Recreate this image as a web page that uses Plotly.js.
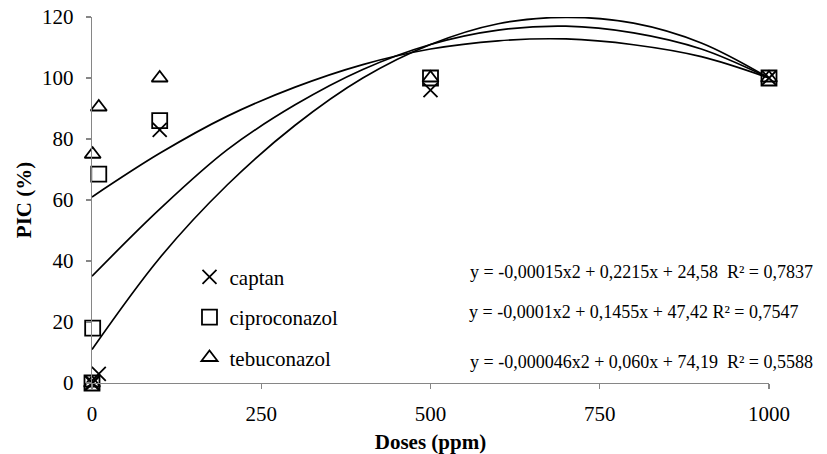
<!DOCTYPE html>
<html>
<head>
<meta charset="utf-8">
<script src="https://cdn.plot.ly/plotly-3.0.1.min.js"></script>
<style>html,body{margin:0;padding:0;background:#fff;}#chart{width:827px;height:454px;}</style>
</head>
<body>
<div id="chart"></div>
<script>
// Observed doses (ppm) and PIC (%) values
var doses = [0, 1, 10, 100, 500, 1000];
var captan = [0, 0, 3, 83, 96, 100];
var ciproconazol = [0, 18, 68.5, 86, 100, 100];
var tebuconazol = [0, 75, 90.5, 100, 100, 100];

// Trend curves
var fitX = [0, 100, 200, 300, 400, 500, 600, 700, 800, 900, 1000];
var fitCaptan = [11, 41, 65, 84.5, 100, 111, 117.8, 119.9, 118, 111.5, 100];
var fitCipro = [35, 57, 76.5, 91.2, 102.8, 111, 115.7, 117, 114.8, 109.5, 100];
var fitTebu = [61, 75.3, 87.5, 97, 104.4, 109.5, 112.2, 112.8, 110.9, 107, 100];

var seriesNames = ['captan', 'ciproconazol', 'tebuconazol'];
var equations = [
  'y = -0,00015x2 + 0,2215x + 24,58  R² = 0,7837',
  'y = -0,0001x2 + 0,1455x + 47,42 R² = 0,7547',
  'y = -0,000046x2 + 0,060x + 74,19  R² = 0,5588'
];
var xTicks = [0, 250, 500, 750, 1000];

var FONT = 'Liberation Serif';

function curve(y, name) {
  return {
    x: fitX, y: y, type: 'scatter', mode: 'lines', name: name,
    line: {color: 'black', width: 1.7, shape: 'spline', smoothing: 1},
    showlegend: false, hoverinfo: 'skip', cliponaxis: false
  };
}
function pts(y, name, symbol, size) {
  return {
    x: doses, y: y, type: 'scatter', mode: 'markers', name: name,
    legendgroup: name,
    marker: {symbol: symbol, size: size, color: 'black', line: {color: 'black', width: 1.8}},
    cliponaxis: false
  };
}

var data = [
  curve(fitCaptan, 'Polin. (captan)'),
  curve(fitCipro, 'Polin. (ciproconazol)'),
  curve(fitTebu, 'Polin. (tebuconazol)'),
  pts(captan, seriesNames[0], 'x-thin-open', 14),
  pts(ciproconazol, seriesNames[1], 'square-open', 15),
  pts(tebuconazol, seriesNames[2], 'triangle-up-open', 14)
];

function axisCommon() {
  return {
    showline: true, linecolor: '#868686', linewidth: 1.3,
    ticks: 'outside', ticklen: 5, tickcolor: '#868686', tickwidth: 1.3,
    showgrid: false, zeroline: false,
    tickfont: {family: FONT, size: 21, color: 'black'}
  };
}

var xa = axisCommon();
xa.range = [0, 1000];
xa.tickmode = 'array';
xa.tickvals = xTicks;
xa.ticktext = xTicks.map(String);
xa.ticklabelstandoff = 6;
xa.title = {text: '<b>Doses (ppm)</b>', font: {family: FONT, size: 21, color: 'black'}, standoff: 11};

var ya = axisCommon();
ya.range = [0, 120];
ya.dtick = 20;
ya.tick0 = 0;
ya.ticklabelstandoff = 8;
ya.title = {text: '<b>PIC (%)</b>', font: {family: FONT, size: 21, color: 'black'}, standoff: 4};

var layout = {
  width: 827, height: 454,
  margin: {l: 92, r: 58, t: 17, b: 71, pad: 0},
  paper_bgcolor: 'white', plot_bgcolor: 'white',
  font: {family: FONT, size: 21, color: 'black'},
  xaxis: xa,
  yaxis: ya,
  showlegend: true,
  legend: {
    x: 0.144, y: 0.345, xanchor: 'left', yanchor: 'top',
    font: {family: FONT, size: 21, color: 'black'},
    bgcolor: 'rgba(0,0,0,0)', tracegroupgap: 10, itemwidth: 30
  },
  annotations: [
    {xref: 'paper', yref: 'paper', x: 0.555, y: 0.303, xanchor: 'left', yanchor: 'middle', showarrow: false, text: equations[0], font: {family: FONT, size: 18, color: 'black'}},
    {xref: 'paper', yref: 'paper', x: 0.554, y: 0.194, xanchor: 'left', yanchor: 'middle', showarrow: false, text: equations[1], font: {family: FONT, size: 18, color: 'black'}},
    {xref: 'paper', yref: 'paper', x: 0.555, y: 0.057, xanchor: 'left', yanchor: 'middle', showarrow: false, text: equations[2], font: {family: FONT, size: 18, color: 'black'}}
  ]
};

Plotly.newPlot('chart', data, layout, {displayModeBar: false, staticPlot: true});
</script>
</body>
</html>
